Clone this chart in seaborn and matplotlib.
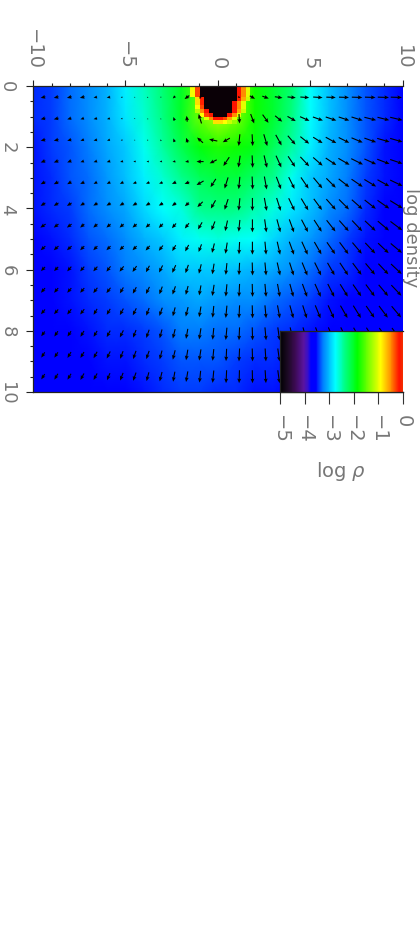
import numpy as np
import matplotlib
matplotlib.use('Agg')
import matplotlib.pyplot as plt
from matplotlib.colors import LinearSegmentedColormap
import seaborn as sns

sns.set_style('white')
plt.rcParams['font.family'] = ['DejaVu Sans']

N = np.nan
B = 1.0

# log density on a 1 x 1 grid, x = -10..10, z = 0..10
rho_rows = [
    [-3.45,-3.4,-3.3,-3.2,-3.05,-2.8,-2.55,-2.3,-2.0,-1.5,-1.0,-1.3,-1.8,-2.05,-2.3,-2.75,-3.0,-3.2,-3.35,-3.45,-3.6],
    [-3.45,-3.4,-3.3,-3.2,-3.05,-2.85,-2.6,-2.35,-2.0,-1.45,-1.2,-1.4,-1.8,-2.05,-2.35,-2.75,-3.0,-3.2,-3.35,-3.45,-3.6],
    [-3.5,-3.4,-3.35,-3.25,-3.1,-2.95,-2.7,-2.45,-2.15,-1.9,-1.75,-1.8,-1.95,-2.2,-2.45,-2.8,-3.05,-3.2,-3.35,-3.5,-3.6],
    [-3.5,-3.45,-3.35,-3.3,-3.15,-3.0,-2.8,-2.6,-2.4,-2.2,-2.1,-2.1,-2.25,-2.4,-2.7,-2.95,-3.1,-3.25,-3.4,-3.5,-3.65],
    [-3.5,-3.45,-3.4,-3.3,-3.2,-3.1,-2.9,-2.75,-2.65,-2.4,-2.35,-2.35,-2.5,-2.65,-2.85,-3.0,-3.2,-3.3,-3.45,-3.55,-3.65],
    [-3.55,-3.5,-3.45,-3.35,-3.3,-3.2,-3.05,-2.95,-2.8,-2.7,-2.65,-2.7,-2.75,-2.9,-3.05,-3.15,-3.3,-3.4,-3.5,-3.6,-3.7],
    [-3.6,-3.55,-3.5,-3.4,-3.35,-3.25,-3.2,-3.1,-2.95,-2.95,-2.95,-3.0,-3.05,-3.1,-3.2,-3.3,-3.4,-3.45,-3.55,-3.65,-3.7],
    [-3.6,-3.55,-3.5,-3.45,-3.4,-3.35,-3.3,-3.2,-3.15,-3.1,-3.15,-3.2,-3.2,-3.3,-3.35,-3.4,-3.5,-3.55,-3.6,-3.65,-3.75],
    [-3.6,-3.6,-3.55,-3.5,-3.45,-3.45,-3.4,-3.35,-3.25,-3.25,-3.3,-3.3,-3.35,-3.4,-3.45,-3.5,-3.55,-3.6,-3.65,-3.7,-3.75],
    [-3.65,-3.65,-3.6,-3.55,-3.5,-3.5,-3.45,-3.4,-3.35,-3.35,-3.35,-3.4,-3.45,-3.45,-3.5,-3.55,-3.6,-3.65,-3.65,-3.7,-3.75],
    [-3.65,-3.65,-3.65,-3.6,-3.55,-3.55,-3.5,-3.45,-3.4,-3.4,-3.45,-3.45,-3.5,-3.5,-3.55,-3.6,-3.6,-3.65,-3.7,-3.7,-3.75],
]

# central dense blob, finer cells (B is above the colour range, drawn black)
core_rows = [
    [N,-0.95,-0.3,B,B,B,B,B,B,B,B,-0.15,-0.5,-1.0],
    [N,-0.95,-0.3,B,B,B,B,B,B,B,B,-0.15,-0.5,-1.0],
    [N,-0.95,-0.3,B,B,B,B,B,B,B,B,-0.15,-0.5,-1.0],
    [N,N,-0.8,-0.2,B,B,B,B,B,B,B,-0.2,-0.6,-1.1],
    [N,N,-0.8,-0.2,B,B,B,B,B,B,-0.15,-0.5,-1.0,N],
    [N,N,-0.9,-0.3,B,B,B,B,B,B,-0.15,-0.5,-1.0,N],
    [N,N,-1.2,-0.5,-0.15,B,B,B,B,B,-0.15,-0.6,-1.1,N],
    [N,N,N,-0.9,-0.3,-0.1,B,B,B,-0.15,-0.5,-1.0,N,N],
    [N,N,N,N,-1.0,-0.5,-0.15,-0.15,-0.3,-0.6,-1.0,N,N,N],
    [N,N,N,N,N,N,-0.8,-0.8,-0.9,-1.1,-1.3,N,N,N],
]

arrow_x = [-9.46,-8.75,-8.04,-7.34,-6.63,-5.92,-5.21,-4.51,-3.80,-3.09,-2.38,-1.68,-0.97,-0.26,
           0.45,1.15,1.86,2.57,3.28,3.98,4.69,5.40,6.11,6.81,7.52,8.23,8.94,9.64]
arrow_z = [0.37,1.07,1.77,2.47,3.17,3.87,4.57,5.30,5.98,6.68,7.38,8.10,8.79,9.50]

# arrow components, in pixels: u to the right, w downward on the page
u_rows = [
    [-4,-4,-4,-4,-3,-3,-1.5,-1,-0.5,-0.5,-2,-4,-1,N,N,2,4.5,5.5,6.5,7,7.5,8,8,8.5,9,9,9.5,9.5],
    [-4,-4,-3.5,-3,-3,-2.5,-1.5,-1,-0.5,-0.3,-1,-0.5,-2.5,N,N,0.5,3,5,6,7,8,8.5,9,9,9.5,10,10,10.5],
    [-4,-4,-3.5,-3,-3,-2.5,-1.5,-1,-0.5,-0.3,-1,-1.5,-5,-7,-6,-1,0.5,3,5,6.5,7.5,8,9,9,9.5,10,10.5,10.5],
    [-4,-4,-3.5,-3,-3,-3,-2.5,-2,-2,-2,-2.5,-3,-6,-6,-5,-1.5,0.5,2.5,4.5,6,7.5,8,9,9.5,10,10,10.5,10.5],
    [-4,-4,-3.5,-3.5,-3,-3,-3,-3,-3,-3,-3.5,-4,-6,-4.5,-3,-1,0.5,2,4,5,6.5,7.5,8,9,9.5,10,10,10.5],
    [-4,-4,-4,-3.5,-3.5,-3.5,-3.5,-3.5,-3.5,-3.5,-3.5,-3.5,-4.5,-4,-3,-1,0,2,3.5,5,6,7,8,8.5,9,9.5,10,10.5],
    [-4.5,-4,-4,-3.5,-3.5,-3.5,-3.5,-3.5,-3.5,-3.5,-3.5,-3.5,-3.5,-3,-2,-1,0,1.5,3,4,5.5,6.5,7.5,8,8.5,9,9.5,10],
    [-4,-4,-4,-3.5,-3.5,-3.5,-3.5,-3.5,-3.5,-3.5,-3,-3,-2.5,-2,-1.5,-0.5,0,1,2.5,4,5,6,7,7.5,8,8.5,9,9.5],
    [-3.5,-3.5,-3.5,-3.5,-3.5,-3.5,-3.5,-3.5,-3,-3,-3,-2.5,-2,-1.5,-1,-0.5,0.3,1,2.5,3.5,4.5,5.5,6,7,7.5,8,8.5,9],
    [-3.5,-3.5,-3.5,-3.5,-3.5,-3.5,-3,-3,-3,-2.5,-2.5,-2,-1.5,-1.5,-1,-0.5,0.3,1,2,3,4,5,5.5,6.5,7,7.5,8,8.5],
    [-3.5,-3.5,-3.5,-3.5,-3,-3,-3,-3,-2.5,-2.5,-2,-2,-1.5,-1,-1,-0.5,0.3,1,2,3,3.5,4.5,5,6,6.5,7,7.5,8],
    [-3,-3,-3,-3,-3,-3,-3,-2.5,-2.5,-2,-2,-1.5,-1.5,-1,-1,-0.5,0.3,1,1.5,2.5,3,4,4.5,5.5,6,6.5,7,7.5],
    [-3,-3,-3,-3,-3,-3,-2.5,-2.5,-2.5,-2,-2,-1.5,-1.5,-1,-0.5,-0.5,0.3,0.7,1.5,2.5,3,3.5,4,5,5.5,6,6.5,7],
    [-3,-3,-3,-3,-3,-2.5,-2.5,-2.5,-2,-2,-1.5,-1.5,-1,-1,-0.5,-0.3,0.2,0.7,1.5,2,3,3.5,4,4.5,5,5.5,6,6.5],
]
w_rows = [
    [1,1,1,1,0.5,0.5,0.5,0.3,0.5,1,2,3,-2,N,N,1,2.5,2,1,0.7,0.5,0.5,0.3,0.3,0.3,0.3,0.3,0.3],
    [1,1,1,1,0.7,0.7,0.5,0.3,-1,-1,-3,-5,-8,N,N,8,8,7,5,4,3.5,3,3,3,3,2.5,2.5,2.5],
    [1,1,1,1,0.7,0.7,0.5,0.3,0.3,-1.5,-3,-4,-4.5,-1.5,3.5,10,10,10,9,7.5,6,5,5,4.5,4,3.5,3,3],
    [1.5,1.5,1.5,1,1,1,0.7,0.5,0.3,0.5,0.5,0.5,0,3,7.5,10,10.5,10.5,10,9,8,7,6,5.5,5,4.5,4,3.5],
    [2,2,2,1.5,1.5,1.5,1.5,1,1,1,1.5,1.5,3.5,7,9.5,10.5,11,11,10.5,10,9.5,9,8,7,6.5,6,5.5,5],
    [2.5,2.5,2.5,2,2,2,2,2,2,2,2.5,3,4.5,7,9,10.5,11,11,11,10.5,10,9.5,9,8.5,8,7.5,7,6.5],
    [3,3,3,3,3,3,3,3,3,3.5,4,4.5,6,7.5,9,10,11,11,11,11,10.5,10,9.5,9,9,8.5,8,7.5],
    [3.5,3.5,3.5,3.5,3.5,3.5,3.5,3.5,4,4.5,5,5.5,6.5,8,9.5,10.5,11,11,11,11,11,10.5,10,10,9.5,9,8.5,8],
    [3.5,3.5,4,4,4,4.5,4.5,5,5.5,6,6.5,7,8,9,10,10.5,11,11,11,11,11,11,10.5,10.5,10,9.5,9,8.5],
    [4,4,4,4,4.5,4.5,5,5.5,6,6.5,7,7.5,8.5,9.5,10.5,11,11,11,11,11,11,11,11,10.5,10,10,9.5,9],
    [4,4,4.5,4.5,5,5,5.5,6,6.5,7,7.5,8,9,10,10.5,11,11,11,11,11,11,11,11,10.5,10.5,10,10,9.5],
    [4,4.5,4.5,5,5,5.5,6,6.5,7,7.5,8,8.5,9.5,10,10.5,11,11,11,11,11,11,11,11,11,10.5,10.5,10,10],
    [4.5,4.5,5,5,5.5,6,6.5,7,7,7.5,8,9,9.5,10,10.5,11,11,11,11,11,11,11,11,11,11,10.5,10.5,10],
    [4.5,5,5,5.5,5.5,6,6.5,7,7.5,8,8.5,9,10,10.5,11,11,11,11,11,11,11,11,11,11,11,11,10.5,10.5],
]

top_ticks = [-10, -5, 0, 5, 10]
top_labels = ['−10', '−5', '0', '5', '10']
left_ticks = [0, 2, 4, 6, 8, 10]
bar_ticks = [-5, -4, -3, -2, -1, 0]
bar_labels = ['−5', '−4', '−3', '−2', '−1', '0']

GREY = '#777777'
W, H = 420, 937
L, R, T, Bm = 33, 403, 87, 393

cmap = LinearSegmentedColormap.from_list('rho', [
    (0.00, '#000000'), (0.06, '#1c0a24'), (0.12, '#3a0a50'), (0.19, '#5a14a0'), (0.225, '#3a10c8'),
    (0.25, '#0000ff'), (0.29, '#0000ff'), (0.35, '#0080ff'), (0.45, '#00ffff'), (0.53, '#00ff80'),
    (0.63, '#00ff00'), (0.82, '#ffff00'), (0.90, '#ff9000'), (0.97, '#ff1000'),
    (1.00, '#f03000')])
cmap.set_over('#0a0006')
cmap.set_bad((0, 0, 0, 0))

fig = plt.figure(figsize=(W / 100, H / 100), dpi=100)
pos = [L / W, 1 - Bm / H, (R - L) / W, (Bm - T) / H]

ax_map = fig.add_axes(pos)
sns.heatmap(np.array(rho_rows), ax=ax_map, cmap=cmap, vmin=-5, vmax=0, cbar=False,
            xticklabels=False, yticklabels=False, shading='gouraud')
ax_map.set_xlim(0, 20)
ax_map.set_ylim(10, 0)
ax_map.axis('off')

ax_core = fig.add_axes([(218 - 1.75 * 18.5) / W, 1 - (T + 1.25 * 30.6) / H,
                        3.5 * 18.5 / W, 1.25 * 30.6 / H])
sns.heatmap(np.array(core_rows), ax=ax_core, cmap=cmap, vmin=-5, vmax=0, cbar=False,
            xticklabels=False, yticklabels=False)
ax_core.axis('off')

ax = fig.add_axes(pos, facecolor='none', zorder=3)
ax.set_xlim(-10, 10)
ax.set_ylim(10, 0)
xx, zz = np.meshgrid(arrow_x, arrow_z)
ax.quiver(xx, zz, np.array(u_rows), -np.array(w_rows), angles='uv', scale_units='dots',
          scale=0.85, units='dots', width=1.1, headwidth=3.6, headlength=4.2,
          headaxislength=3.6, pivot='mid', color='black')

ax.xaxis.tick_top()
ax.set_xticks(top_ticks)
ax.set_xticklabels(top_labels, rotation=-90, fontsize=14, color=GREY)
ax.set_xticks(np.arange(-10, 11, 1), minor=True)
ax.set_yticks(left_ticks)
ax.set_yticklabels([str(v) for v in left_ticks], rotation=-90, va='center', fontsize=13, color=GREY)
ax.set_yticks(np.arange(0, 10.5, 0.5), minor=True)
ax.tick_params(axis='x', which='major', length=4.5, width=0.8, pad=8, color='#222222', top=True, bottom=False)
ax.tick_params(axis='x', which='minor', length=2.2, width=0.8, color='#222222', top=True, bottom=False)
ax.tick_params(axis='y', which='major', length=5, width=0.8, pad=7, color='#222222', left=True)
ax.tick_params(axis='y', which='minor', length=2.2, width=0.8, color='#222222', left=True)
ax.spines['right'].set_visible(False)
for s in ['top', 'left', 'bottom']:
    ax.spines[s].set_color('#222222')
    ax.spines[s].set_linewidth(0.9)

# colour bar sitting in the lower right corner
bar_l, bar_t = 280, 332
ax_bar = fig.add_axes([bar_l / W, 1 - Bm / H, (R - bar_l) / W, (Bm - bar_t) / H], zorder=4)
sns.heatmap(np.linspace(-4.99, 0, 256)[None, :], ax=ax_bar, cmap=cmap, vmin=-5, vmax=0, cbar=False,
            xticklabels=False, yticklabels=False)
ax_bar2 = fig.add_axes(ax_bar.get_position(), facecolor='none', zorder=5)
ax_bar2.set_xlim(-5, 0)
ax_bar2.set_yticks([])
ax_bar2.set_xticks(bar_ticks)
ax_bar2.set_xticklabels(bar_labels, rotation=-90, fontsize=14, color=GREY)
ax_bar2.tick_params(axis='x', length=8.5, width=0.8, pad=7, color='#333333', bottom=True)
ax_bar2.spines['right'].set_visible(False)
for s in ['top', 'left', 'bottom']:
    ax_bar2.spines[s].set_color('#222222')
    ax_bar2.spines[s].set_linewidth(0.9)

fig.text(341 / W, 1 - 472 / H, r'log $\rho$', fontsize=14, color=GREY, ha='center', va='center')
fig.text(411 / W, 1 - 238 / H, 'log density', fontsize=13, color=GREY, rotation=-90, ha='center', va='center')

fig.savefig('out.png', dpi=100)
